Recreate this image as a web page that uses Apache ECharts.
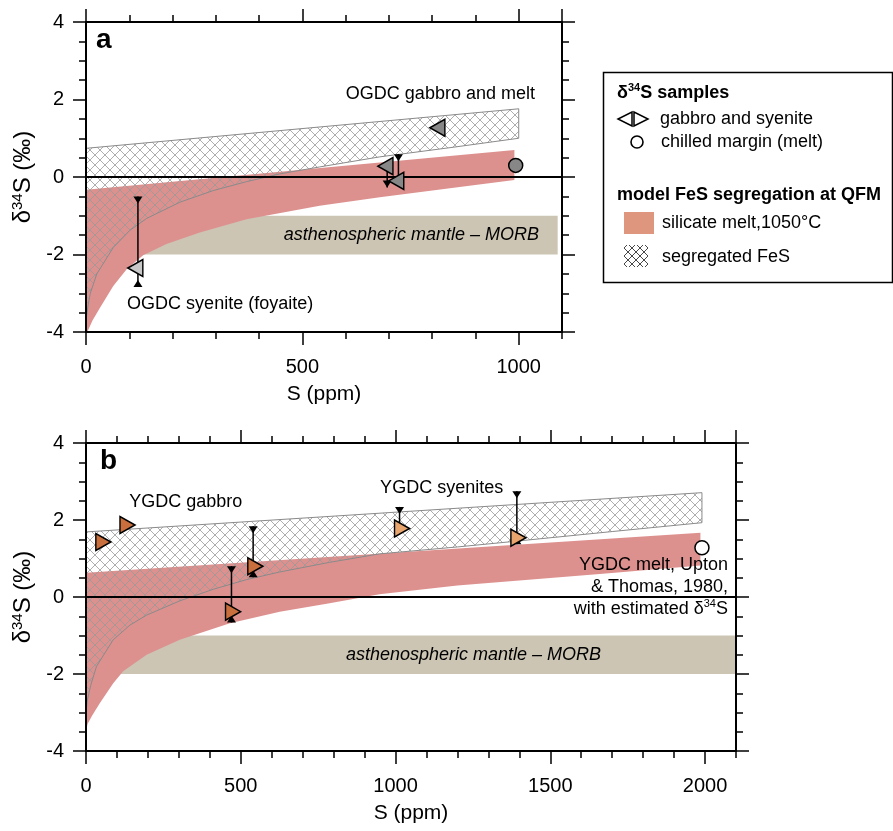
<!DOCTYPE html>
<html><head><meta charset="utf-8">
<script src="https://cdn.jsdelivr.net/npm/echarts@6/dist/echarts.min.js"></script>
<style>html,body{margin:0;padding:0;background:#fff}#c{width:893px;height:831px}</style>
</head><body><div id="c"></div>
<script>
// ---------------- data ----------------
const xMaxA = 1100, xMaxB = 2100;
const yMin = -4, yMax = 4;
const xMajor = 500, xMinor = 100, yMajor = 2;

// panel a (OGDC)
const meltUpperA = [[0,-0.33],[990,0.70]];
const meltLowerA = [[0,-4.0],[3,-4.0],[15,-3.7],[32,-3.38],[63,-2.81],[94,-2.38],[132,-2.02],[186,-1.73],[263,-1.43],[371,-1.09],[540,-0.74],[679,-0.52],[850,-0.28],[990,-0.08]];
const fesUpperA = [[0,0.74],[1000,1.76]];
const fesLowerA = [[0,-3.7],[5,-3.3],[10,-3.0],[25,-2.5],[63,-1.82],[101,-1.38],[140,-1.07],[217,-0.65],[294,-0.35],[371,-0.12],[448,0.08],[540,0.26],[679,0.52],[850,0.77],[1000,1.0]];
const morbA = [[0,-1],[1090,-2]];
const gabbroA = [[812,1.27],[692,0.28],[717,-0.10]];
const syeniteA = [[114,-2.35]];
const meltA = [[993,0.30]];
const errA = [[120,-2.84,-0.50],[722,-0.10,0.59],[696,-0.27,0.29]];
const errCapsA = [['in','in'],['none','in'],['out','none']];

// panel b (YGDC)
const meltUpperB = [[0,0.63],[1985,1.67]];
const meltLowerB = [[0,-3.5],[5,-3.3],[20,-3.08],[45,-2.75],[88,-2.24],[120,-1.93],[196,-1.5],[303,-1.11],[465,-0.68],[626,-0.38],[787,-0.16],[948,0.07],[1200,0.3],[1660,0.6],[1985,0.82]];
const fesUpperB = [[0,1.69],[1990,2.71]];
const fesLowerB = [[0,-3.0],[4,-2.7],[15,-2.3],[34,-1.8],[88,-1.11],[142,-0.73],[196,-0.47],[303,-0.1],[411,0.2],[518,0.45],[626,0.65],[787,0.9],[948,1.12],[1200,1.3],[1390,1.45],[1700,1.7],[1990,1.93]];
const morbB = [[0,-1],[2100,-2]];
const gabbroB = [[56,1.43],[134,1.87],[475,-0.38],[547,0.80]];
const syeniteB = [[1021,1.78],[1397,1.54]];
const meltB = [[1990,1.28]];
const errB = [[470,-0.66,0.80],[540,0.51,1.84],[1013,1.78,2.34],[1392,1.37,2.75]];
const errCapsB = [['in','in'],['in','in'],['none','in'],['in','in']];

const notesA = [
  {pos:[819,2.14], text:'OGDC gabbro and melt', align:'center'},
  {pos:[310,-3.28], text:'OGDC syenite (foyaite)', align:'center'},
  {pos:[752,-1.5], text:'asthenospheric mantle – MORB', align:'center', italic:true}
];
const notesB = [
  {pos:[322,2.47], text:'YGDC gabbro', align:'center'},
  {pos:[1149,2.82], text:'YGDC syenites', align:'center'},
  {pos:[1252,-1.5], text:'asthenospheric mantle – MORB', align:'center', italic:true},
  {pos:[2074,0.26], text:'{t|YGDC melt, Upton}\n{t|& Thomas, 1980,}\n{t|with estimated δ}{s|34}{t|S}', align:'right', rich:true}
];

// ---------------- styles ----------------
const FONT = '"Liberation Sans", Arial, sans-serif';
const RED = '#dd918f', MORB = '#ccc5b4';
const GRAY = '#878787', LGRAY = '#c8c8c8', DORANGE = '#c86f3d', LORANGE = '#e8a56e';
const LEFT_TRI = 'path://M0,5 L10,0 L10,10 Z';
const RIGHT_TRI = 'path://M10,5 L0,0 L0,10 Z';

function hatchCanvas(color, size, lw) {
  const c = document.createElement('canvas');
  c.width = size; c.height = size;
  const g = c.getContext('2d');
  g.strokeStyle = color; g.lineWidth = lw;
  g.beginPath();
  g.moveTo(-1,-1); g.lineTo(size+1,size+1);
  g.moveTo(size+1,-1); g.lineTo(-1,size+1);
  g.stroke();
  return c;
}
const hatchFill = {image: hatchCanvas('#999999', 10, 0.8), repeat: 'repeat'};
const hatchIcon = {image: hatchCanvas('#333', 8, 0.9), repeat: 'repeat'};

const axisLineStyle = {color:'#000', width:2};
const tickStyle = {color:'#000', width:1.5};

function xAxes(gi, max) {
  const base = {gridIndex:gi, type:'value', min:0, max:max, z:10, splitLine:{show:false}, minorSplitLine:{show:false}};
  return [
    Object.assign({}, base, {position:'bottom', interval:xMajor,
      axisLine:{show:true, onZero:false, lineStyle:axisLineStyle},
      axisTick:{show:true, inside:false, length:13, lineStyle:tickStyle},
      axisLabel:{show:true, fontSize:20, color:'#000', fontFamily:FONT, margin:25, showMaxLabel:false,
        formatter:function(v){ return String(v); }},
      name:'S (ppm)', nameLocation:'middle', nameGap:52,
      nameTextStyle:{fontSize:21, color:'#000', fontFamily:FONT}}),
    Object.assign({}, base, {position:'bottom', interval:xMinor,
      axisLine:{show:false, onZero:false}, axisTick:{show:true, length:7, lineStyle:tickStyle}, axisLabel:{show:false}}),
    Object.assign({}, base, {position:'top', interval:xMajor,
      axisLine:{show:true, onZero:false, lineStyle:axisLineStyle}, axisTick:{show:true, length:13, lineStyle:tickStyle}, axisLabel:{show:false}}),
    Object.assign({}, base, {position:'top', interval:xMinor,
      axisLine:{show:false, onZero:false}, axisTick:{show:true, length:7, lineStyle:tickStyle}, axisLabel:{show:false}})
  ];
}
function yAxes(gi) {
  const base = {gridIndex:gi, type:'value', min:yMin, max:yMax, interval:yMajor, z:10,
    axisLine:{show:true, onZero:false, lineStyle:axisLineStyle},
    axisTick:{show:true, length:13, lineStyle:tickStyle},
    minorTick:{show:true, splitNumber:4, length:7, lineStyle:tickStyle},
    splitLine:{show:false}, minorSplitLine:{show:false}};
  return [
    Object.assign({}, base, {position:'left',
      axisLabel:{show:true, fontSize:20, color:'#000', fontFamily:FONT, margin:22},
      name:'{a|δ}{b|34}{a|S (‰)}', nameLocation:'middle', nameGap:50,
      nameTextStyle:{color:'#000', fontFamily:FONT, fontSize:24,
        rich:{a:{fontSize:24, fontFamily:FONT, color:'#000', lineHeight:26},
              b:{fontSize:15, fontFamily:FONT, color:'#000', lineHeight:15, verticalAlign:'top'}}}}),
    Object.assign({}, base, {position:'right', axisLabel:{show:false}})
  ];
}

function bandSeries(xi, yi, upper, lower, fill, stroke, z) {
  return {type:'custom', xAxisIndex:xi, yAxisIndex:yi, z:z, silent:true, animation:false,
    data:[upper[0]],
    renderItem:function(params, api){
      const pts = upper.map(p=>api.coord(p)).concat(lower.slice().reverse().map(p=>api.coord(p)));
      return {type:'polygon', shape:{points:pts}, style:{fill:fill, stroke:stroke||null, lineWidth:1}};
    }};
}
function rectSeries(xi, yi, r, fill, z) {
  return {type:'custom', xAxisIndex:xi, yAxisIndex:yi, z:z, silent:true, animation:false,
    data:[r[0]],
    renderItem:function(params, api){
      const a = api.coord(r[0]), b = api.coord(r[1]);
      return {type:'rect', shape:{x:a[0], y:a[1], width:b[0]-a[0], height:b[1]-a[1]}, style:{fill:fill}};
    }};
}
function zeroLine(xi, yi, max) {
  return {type:'line', xAxisIndex:xi, yAxisIndex:yi, z:4, silent:true, animation:false, symbol:'none',
    data:[[0,0],[max,0]], lineStyle:{color:'#000', width:2}};
}
function errSeries(xi, yi, bars, caps) {
  return {type:'custom', xAxisIndex:xi, yAxisIndex:yi, z:5, silent:true, animation:false,
    data:bars,
    renderItem:function(params, api){
      const b = bars[params.dataIndex], c = caps[params.dataIndex];
      const pl = api.coord([b[0], b[1]]), ph = api.coord([b[0], b[2]]);
      const w = 4.5, h = 7;
      const ch = [{type:'line', shape:{x1:pl[0], y1:pl[1], x2:ph[0], y2:ph[1]}, style:{stroke:'#000', lineWidth:1.5}}];
      const tri = pts => ({type:'polygon', shape:{points:pts}, style:{fill:'#000'}});
      if (c[0] === 'in') ch.push(tri([[pl[0]-w,pl[1]],[pl[0]+w,pl[1]],[pl[0],pl[1]-h]]));
      if (c[0] === 'out') ch.push(tri([[pl[0]-w,pl[1]-h],[pl[0]+w,pl[1]-h],[pl[0],pl[1]]]));
      if (c[1] === 'in') ch.push(tri([[ph[0]-w,ph[1]],[ph[0]+w,ph[1]],[ph[0],ph[1]+h]]));
      return {type:'group', children:ch};
    }};
}
function markerSeries(xi, yi, data, symbol, size, color) {
  return {type:'scatter', xAxisIndex:xi, yAxisIndex:yi, z:6, silent:true, animation:false,
    data:data, symbol:symbol, symbolSize:size,
    itemStyle:{color:color, borderColor:'#000', borderWidth:1.5, opacity:1}};
}
function noteSeries(xi, yi, notes) {
  return {type:'custom', xAxisIndex:xi, yAxisIndex:yi, z:7, silent:true, animation:false,
    data:notes.map(n=>n.pos),
    renderItem:function(params, api){
      const n = notes[params.dataIndex];
      const p = api.coord(n.pos);
      const style = {text:n.text, fill:'#000', fontSize:18, fontFamily:FONT,
        fontStyle:n.italic?'italic':'normal', align:n.align, verticalAlign:'middle'};
      if (n.rich) {
        style.lineHeight = 22;
        style.rich = {t:{fontSize:18, fontFamily:FONT, color:'#000', lineHeight:22},
                      s:{fontSize:11, fontFamily:FONT, color:'#000', lineHeight:11, verticalAlign:'top'}};
      }
      return {type:'text', x:p[0], y:p[1], style:style};
    }};
}

const series = [
  // panel a
  rectSeries(0, 0, morbA, MORB, 1),
  bandSeries(0, 0, meltUpperA, meltLowerA, RED, null, 2),
  bandSeries(0, 0, fesUpperA, fesLowerA, hatchFill, '#8a8a8a', 3),
  zeroLine(0, 0, xMaxA),
  errSeries(0, 0, errA, errCapsA),
  markerSeries(0, 0, syeniteA, LEFT_TRI, [15,17], LGRAY),
  markerSeries(0, 0, gabbroA, LEFT_TRI, [15,17], GRAY),
  markerSeries(0, 0, meltA, 'circle', 14, GRAY),
  noteSeries(0, 0, notesA),
  // panel b
  rectSeries(4, 2, morbB, MORB, 1),
  bandSeries(4, 2, meltUpperB, meltLowerB, RED, null, 2),
  bandSeries(4, 2, fesUpperB, fesLowerB, hatchFill, '#8a8a8a', 3),
  zeroLine(4, 2, xMaxB),
  errSeries(4, 2, errB, errCapsB),
  markerSeries(4, 2, gabbroB, RIGHT_TRI, [15,17], DORANGE),
  markerSeries(4, 2, syeniteB, RIGHT_TRI, [15,17], LORANGE),
  markerSeries(4, 2, meltB, 'circle', 14, '#fff'),
  noteSeries(4, 2, notesB)
];

const legendEls = [
  {type:'rect', shape:{x:603.5, y:72.5, width:289, height:210}, style:{fill:'#fff', stroke:'#000', lineWidth:1.5}, z:20},
  {type:'text', x:617, y:93, z:21, style:{text:'{b|δ}{s|34}{b|S samples}', verticalAlign:'middle',
    rich:{b:{fontSize:18, fontWeight:'bold', fontFamily:FONT, color:'#000', lineHeight:22},
          s:{fontSize:11, fontWeight:'bold', fontFamily:FONT, color:'#000', lineHeight:11, verticalAlign:'top'}}}},
  {type:'polygon', z:21, shape:{points:[[632,112],[632,126],[618,119]]}, style:{fill:'#fff', stroke:'#000', lineWidth:1.5}},
  {type:'polygon', z:21, shape:{points:[[634,112],[634,126],[648,119]]}, style:{fill:'#fff', stroke:'#000', lineWidth:1.5}},
  {type:'text', x:660, y:119, z:21, style:{text:'gabbro and syenite', fontSize:18, fontFamily:FONT, fill:'#000', verticalAlign:'middle'}},
  {type:'circle', z:21, shape:{cx:637, cy:142, r:6}, style:{fill:'#fff', stroke:'#000', lineWidth:1.6}},
  {type:'text', x:661, y:142, z:21, style:{text:'chilled margin (melt)', fontSize:18, fontFamily:FONT, fill:'#000', verticalAlign:'middle'}},
  {type:'text', x:617, y:195, z:21, style:{text:'model FeS segregation at QFM', fontSize:18, fontWeight:'bold', fontFamily:FONT, fill:'#000', verticalAlign:'middle'}},
  {type:'rect', z:21, shape:{x:624, y:212, width:30, height:22}, style:{fill:'#df967f'}},
  {type:'text', x:662, y:223, z:21, style:{text:'silicate melt,1050°C', fontSize:18, fontFamily:FONT, fill:'#000', verticalAlign:'middle'}},
  {type:'rect', z:21, shape:{x:624, y:245, width:24, height:22}, style:{fill:hatchIcon}},
  {type:'text', x:662, y:257, z:21, style:{text:'segregated FeS', fontSize:18, fontFamily:FONT, fill:'#000', verticalAlign:'middle'}},
  {type:'text', x:96, y:40, z:21, style:{text:'a', fontSize:28, fontWeight:'bold', fontFamily:FONT, fill:'#000', verticalAlign:'middle'}},
  {type:'text', x:100, y:461, z:21, style:{text:'b', fontSize:28, fontWeight:'bold', fontFamily:FONT, fill:'#000', verticalAlign:'middle'}}
];

const chart = echarts.init(document.getElementById('c'), null, {renderer:'canvas'});
chart.setOption({
  backgroundColor:'#fff',
  animation:false,
  grid:[
    {left:86, top:22, width:476, height:310, containLabel:false, outerBoundsMode:'none'},
    {left:86, top:443, width:650, height:308, containLabel:false, outerBoundsMode:'none'}
  ],
  xAxis: xAxes(0, xMaxA).concat(xAxes(1, xMaxB)),
  yAxis: yAxes(0).concat(yAxes(1)),
  series: series,
  graphic: {elements: legendEls}
});
</script></body></html>
